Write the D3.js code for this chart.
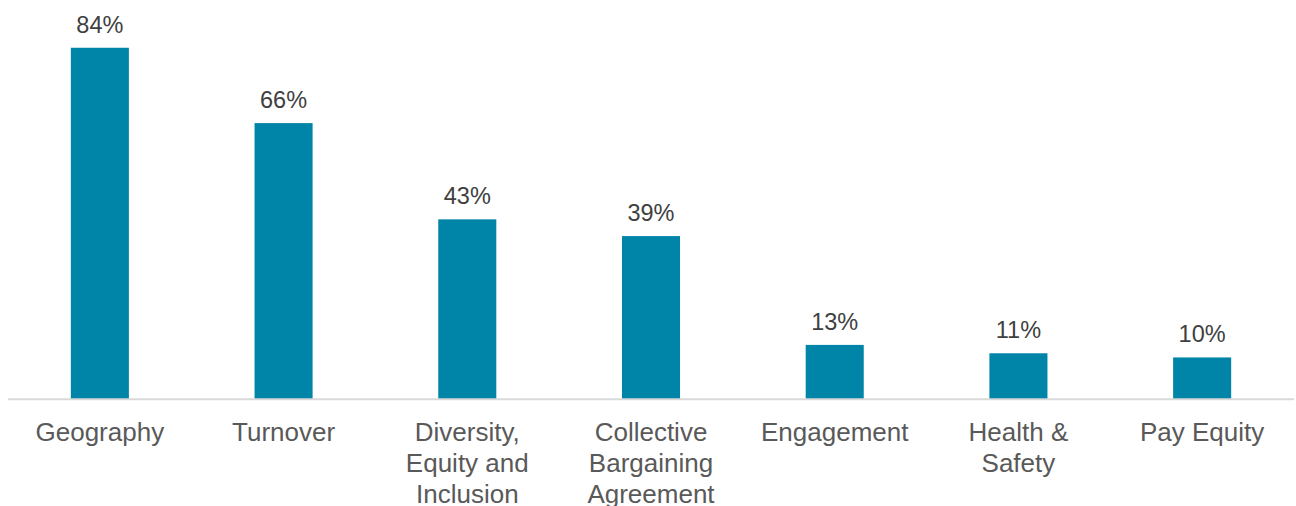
<!DOCTYPE html>
<html>
<head>
<meta charset="utf-8">
<script src="https://cdn.jsdelivr.net/npm/d3@7"></script>
<style>
  html, body { margin: 0; padding: 0; background: #fff; }
  svg { display: block; }
</style>
</head>
<body>
<svg id="chart" width="1296" height="506"></svg>
<script>
// Share of respondents per topic
const categories = [
  ["Geography"],
  ["Turnover"],
  ["Diversity,", "Equity and", "Inclusion"],
  ["Collective", "Bargaining", "Agreement"],
  ["Engagement"],
  ["Health &", "Safety"],
  ["Pay Equity"]
];
const values = [84, 66, 43, 39, 13, 11, 10];

const left = 8, right = 1294, baseline = 399.3;
const font = "'Liberation Sans', Arial, sans-serif";

const svg = d3.select("#chart");

const x = d3.scaleBand()
  .domain(d3.range(categories.length))
  .range([left, right])
  .padding(0);

const y = d3.scaleLinear()
  .domain([0, 95])
  .range([baseline, baseline - 95 * 4.185]);

const barW = x.bandwidth() * 0.316;

// Bars
svg.append("g")
  .selectAll("rect")
  .data(values)
  .join("rect")
  .attr("x", (d, i) => x(i) + x.bandwidth() / 2 - barW / 2)
  .attr("y", d => y(d))
  .attr("width", barW)
  .attr("height", d => y(0) - y(d))
  .attr("fill", "#0085a9");

// Baseline axis
svg.append("line")
  .attr("x1", left).attr("x2", right)
  .attr("y1", baseline).attr("y2", baseline)
  .attr("stroke", "#d9d9d9")
  .attr("stroke-width", 2);

// Value labels
svg.append("g")
  .selectAll("text")
  .data(values)
  .join("text")
  .attr("x", (d, i) => x(i) + x.bandwidth() / 2)
  .attr("y", d => y(d) - 15)
  .attr("text-anchor", "middle")
  .attr("font-family", font)
  .attr("font-size", 23.5)
  .attr("fill", "#404040")
  .text(d => d + "%");

// Category labels
const cat = svg.append("g")
  .selectAll("text")
  .data(categories)
  .join("text")
  .attr("x", (d, i) => x(i) + x.bandwidth() / 2)
  .attr("y", 441)
  .attr("text-anchor", "middle")
  .attr("font-family", font)
  .attr("font-size", 26)
  .attr("fill", "#595959");

cat.selectAll("tspan")
  .data(d => d)
  .join("tspan")
  .attr("x", function () { return d3.select(this.parentNode).attr("x"); })
  .attr("dy", (d, i) => i === 0 ? 0 : 31)
  .text(d => d);
</script>
</body>
</html>
